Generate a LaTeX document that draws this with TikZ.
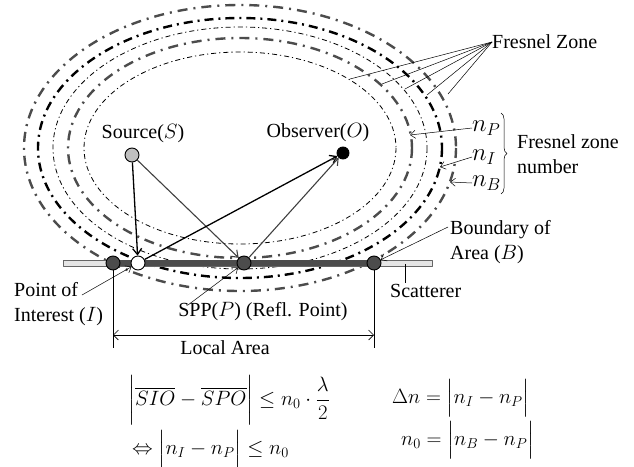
\documentclass[tikz,border=0pt]{standalone}
\usepackage{amsmath}
\usepackage{fontspec}
\setmainfont{Liberation Serif}
\usetikzlibrary{arrows.meta,decorations.pathreplacing}

\tikzset{
  lbl/.style={font=\fontsize{20}{25}\selectfont,inner sep=0pt},
  big/.style={font=\fontsize{26}{28}\selectfont,inner sep=0pt},
  eqn/.style={font=\fontsize{22}{26}\selectfont,inner sep=0pt,anchor=west},
  pt/.style={circle,draw=black,line width=0.9pt,minimum size=14pt,inner sep=0pt,fill=black!70},
  ray/.style={line width=1.3pt,-{Straight Barb[length=6pt,width=9pt]}},
  pointer/.style={line width=0.5pt,-{Straight Barb[length=5pt,width=8pt]}},
  zthin/.style={line width=0.8pt,dash pattern=on 5pt off 3pt on 1.2pt off 3pt},
  zgray/.style={black!70,line width=2.4pt,dash pattern=on 10pt off 6pt on 2pt off 6pt},
  zblack/.style={black,line width=2.4pt,dash pattern=on 9pt off 5pt on 2pt off 5pt},
}

\begin{document}
\begin{tikzpicture}[x=1pt,y=-1pt,line join=round]
  \useasboundingbox (0,0) rectangle (634,466);
  %% Fresnel zones
  \draw[zthin]  (240,148) ellipse (156 and 96);
  \draw[zgray]  (240,148) ellipse (172 and 110);
  \draw[zthin]  (240,148) ellipse (187 and 121);
  \draw[zblack] (240,148) ellipse (202 and 130);
  \draw[zgray]  (240,148) ellipse (216 and 143);
  %% Scatterer
  \draw[black!60,fill=black!10,line width=0.6pt] (63,260) rectangle (432,266);
  \draw[black!70,line width=6pt] (113,263) -- (374,263);
  %% Points
  \node[pt] (L) at (113,263) {};
  \node[pt,fill=white] (I) at (138,263) {};
  \node[pt] (P) at (244,263) {};
  \node[pt] (B) at (374,263) {};
  \node[pt,fill=black!25] (S) at (132,155) {};
  \node[pt,fill=black,minimum size=12pt] (O) at (343,153) {};
  %% Rays
  \draw[ray] (S) -- (I);
  \draw[ray,black!75,line width=1.1pt] (S) -- (P);
  \draw[ray] (I) -- (O);
  \draw[ray,black!75,line width=1.1pt] (P) -- (O);
  %% Labels
  \node[lbl] (src) at (143,134) {Source($S$)};
  \node[lbl] (obs) at (318,133) {Observer($O$)};
  \node[lbl,anchor=west] (fz) at (492,42) {Fresnel Zone};
  \coordinate (z1) at (350,79);
  \coordinate (z2) at (382,84);
  \coordinate (z3) at (405,89);
  \coordinate (z4) at (427,95);
  \coordinate (z5) at (448,94);
  \foreach \z in {z1,z2,z3,z4,z5}
    \draw[line width=0.5pt] (fz.west) -- (\z);
  %% Zone numbers
  \node[big,anchor=west] (nP) at (472,128) {$n_P$};
  \node[big,anchor=west] (nI) at (472,157) {$n_I$};
  \node[big,anchor=west] (nB) at (472,183) {$n_B$};
  \coordinate (nPt) at (410,135);
  \coordinate (nIt) at (440,167);
  \coordinate (nBt) at (450,182);
  \draw[pointer] (nP.west) -- (nPt);
  \draw[pointer] (nI.west) -- (nIt);
  \draw[pointer] (nB.west) -- (nBt);
  \draw[line width=0.5pt,decorate,decoration={brace,amplitude=6pt}] (501,113) -- (501,194);
  \node[lbl,anchor=west,align=left] (fzn) at (517,154) {Fresnel zone\\number};
  %% Boundary, scatterer, interest, SPP
  \node[lbl,anchor=west,align=left] (bnd) at (450,242) {Boundary of\\Area ($B$)};
  \coordinate (bndt) at (448,227);
  \draw[pointer] (bndt) -- (B);
  \node[lbl,anchor=west] (sct) at (390,291) {Scatterer};
  \coordinate (sct1) at (405,264);
  \coordinate (sct2) at (405,283);
  \draw[line width=0.6pt] (sct1) -- (sct2);
  \node[lbl,anchor=west,align=left] (poi) at (14,304) {Point of\\Interest ($I$)};
  \coordinate (poit) at (82,295);
  \draw[pointer] (poit) -- (I);
  \node[lbl] (spp) at (263,312) {SPP($P$) (Refl. Point)};
  \coordinate (sppt) at (188,305);
  \draw[pointer] (sppt) -- (P);
  %% Local area
  \coordinate (La) at (113,348);
  \coordinate (Lb) at (374,348);
  \draw[line width=0.6pt] (L) -- (La);
  \draw[line width=0.6pt] (B) -- (Lb);
  \coordinate (La1) at (113,335);
  \coordinate (Lb1) at (374,335);
  \draw[line width=0.6pt,{Straight Barb[length=5pt,width=10pt]}-{Straight Barb[length=5pt,width=10pt]}] (La1) -- (Lb1);
  \node[lbl] (loc) at (225,348) {Local Area};
  %% Equations
  \node[eqn] (eq1) at (128,400) {$\bigg|\overline{SIO}-\overline{SPO}\bigg|\le n_0\cdot\dfrac{\lambda}{2}$};
  \node[eqn] (eq2) at (132,449) {$\Leftrightarrow\Big|n_I-n_P\Big|\le n_0$};
  \node[eqn] (eq3) at (392,398) {$\Delta n=\Big|n_I-n_P\Big|$};
  \node[eqn] (eq4) at (401,440) {$n_0=\Big|n_B-n_P\Big|$};
\end{tikzpicture}
\end{document}
